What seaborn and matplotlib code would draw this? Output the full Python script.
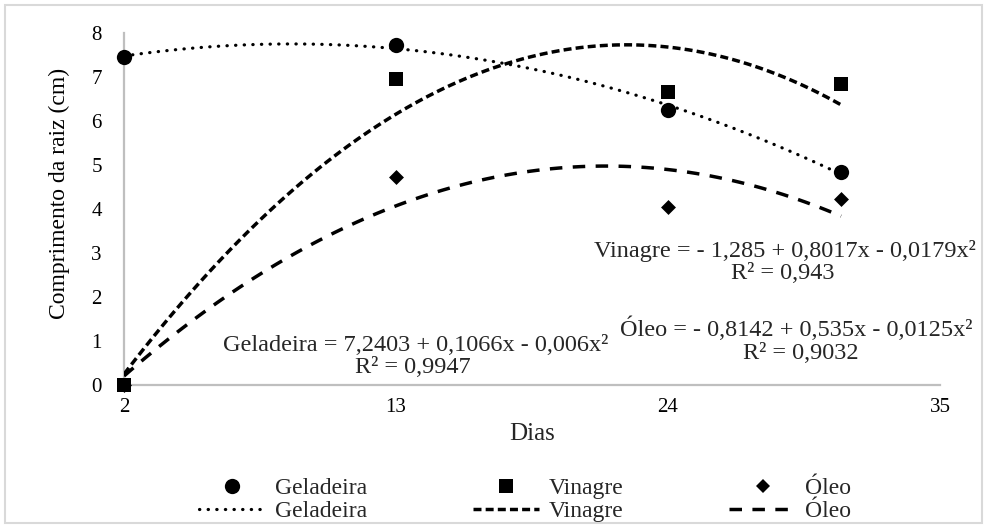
import numpy as np
import pandas as pd
import matplotlib
matplotlib.use("Agg")
import matplotlib.pyplot as plt
import seaborn as sns
from matplotlib.lines import Line2D
from matplotlib.patches import Rectangle

# ---- data ----
dias = [2, 13, 24, 31]
geladeira = [7.45, 7.73, 6.25, 4.84]
vinagre = [0.0, 6.95, 6.66, 6.84]
oleo = [0.0, 4.73, 4.05, 4.23]
xticks = [2, 13, 24, 35]
yticks = [0, 1, 2, 3, 4, 5, 6, 7, 8]
series_names = ["Geladeira", "Vinagre", "Óleo"]
eq_vinagre = "Vinagre = - 1,285 + 0,8017x - 0,0179x²"
r2_vinagre = "R² = 0,943"
eq_geladeira = "Geladeira = 7,2403 + 0,1066x - 0,006x²"
r2_geladeira = "R² = 0,9947"
eq_oleo = "Óleo = - 0,8142 + 0,535x - 0,0125x²"
r2_oleo = "R² = 0,9032"

sns.set_theme(style="white")
plt.rcParams["font.family"] = ["Liberation Serif", "DejaVu Serif"]

W, H = 986, 528
def fx(p):
    return p / W
def fy(p):
    return 1 - p / H

fig = plt.figure(figsize=(W / 100, H / 100), dpi=100)
fig.patch.set_facecolor("white")
ax = fig.add_axes([fx(124), fy(385), (940 - 124) / W, (385 - 33) / H])

dot_style = dict(color="black", lw=2.3, linestyle=(0, (0.1, 2.6)), dash_capstyle="round")
dash_style = dict(color="black", lw=2.5, linestyle=(0, (2.3, 1.2)))
long_style = dict(color="black", lw=2.5, linestyle=(0, (3.6, 3.0)))

sns.regplot(x=dias, y=geladeira, order=2, ci=None, scatter=False, ax=ax, line_kws=dot_style)
sns.regplot(x=dias, y=vinagre, order=2, ci=None, scatter=False, ax=ax, line_kws=dash_style)
sns.regplot(x=dias, y=oleo, order=2, ci=None, scatter=False, ax=ax, line_kws=long_style)

sns.scatterplot(x=dias, y=geladeira, marker="o", s=11 ** 2, color="black", linewidth=0,
                ax=ax, zorder=3, clip_on=False)
sns.scatterplot(x=dias, y=vinagre, marker="s", s=9.5 ** 2, color="black", linewidth=0,
                ax=ax, zorder=3, clip_on=False)
sns.scatterplot(x=dias, y=oleo, marker="D", s=7.6 ** 2, color="black", linewidth=0,
                ax=ax, zorder=3, clip_on=False)

ax.set_xlim(2, 35)
ax.set_ylim(0, 8)
ax.set_xticks(xticks)
ax.set_yticks(yticks)
ax.set_xlabel("")
ax.set_ylabel("Comprimento da raiz (cm)", fontsize=17, color="black")
ax.yaxis.set_label_coords(-0.066, 0.543)
ax.tick_params(axis="x", length=0, pad=9, labelsize=15, colors="black")
ax.tick_params(axis="y", length=0, pad=16, labelsize=15, colors="black")
for s in ["top", "right"]:
    ax.spines[s].set_visible(False)
for s in ["left", "bottom"]:
    ax.spines[s].set_color("#bfbfbf")
    ax.spines[s].set_linewidth(1.6)
    ax.spines[s].set_zorder(1)
ax.set_facecolor("white")

fig.text(fx(532), fy(440), "Dias", ha="center", va="baseline", fontsize=18)

fig.text(fx(785), fy(257), eq_vinagre, ha="center", va="baseline", fontsize=17.5)
fig.text(fx(783), fy(279), r2_vinagre, ha="center", va="baseline", fontsize=17.5)
fig.text(fx(416), fy(351), eq_geladeira, ha="center", va="baseline", fontsize=17.5)
fig.text(fx(413), fy(373), r2_geladeira, ha="center", va="baseline", fontsize=17.5)
fig.text(fx(796), fy(336), eq_oleo, ha="center", va="baseline", fontsize=17.5)
fig.text(fx(801), fy(359), r2_oleo, ha="center", va="baseline", fontsize=17.5)

handles = [
    Line2D([], [], marker="o", ls="none", color="black", ms=11, mew=0),
    Line2D([], [], **dot_style),
    Line2D([], [], marker="s", ls="none", color="black", ms=9.5, mew=0),
    Line2D([], [], **dash_style),
    Line2D([], [], marker="D", ls="none", color="black", ms=7.6, mew=0),
    Line2D([], [], **long_style),
]
labels = [series_names[0], series_names[0], series_names[1], series_names[1],
          series_names[2], series_names[2]]
fig.legend(handles=handles, labels=labels, ncol=3, loc="center",
           bbox_to_anchor=(fx(525), fy(500)), frameon=False, fontsize=17,
           handlelength=2.8, handletextpad=0.4, columnspacing=4.5,
           labelspacing=0.05, borderpad=0)

fig.add_artist(Rectangle((fx(5), fy(523)), (982 - 5) / W, (523 - 5) / H,
                         transform=fig.transFigure, fill=False,
                         edgecolor="#d9d9d9", lw=1.5))

fig.savefig("out.png", dpi=100)
